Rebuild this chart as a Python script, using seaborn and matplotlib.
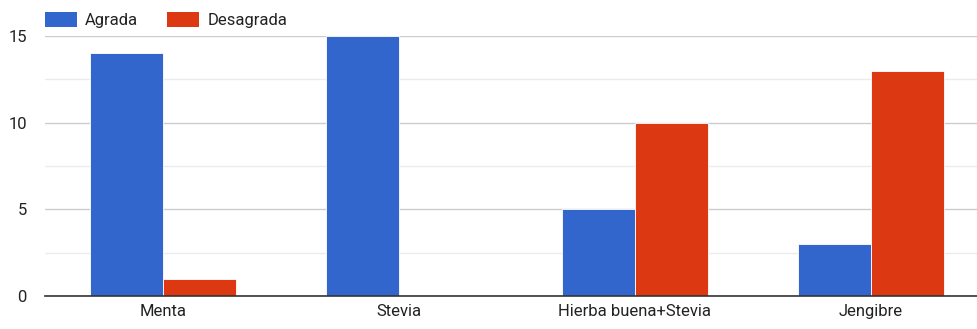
import matplotlib
matplotlib.use("Agg")
import matplotlib.pyplot as plt
import seaborn as sns
import pandas as pd
from matplotlib.patches import Patch

categories = ["Menta", "Stevia", "Hierba buena+Stevia", "Jengibre"]
agrada = [14, 15, 5, 3]
desagrada = [1, 0, 10, 13]
series_names = ["Agrada", "Desagrada"]
yticks = [0, 5, 10, 15]

df = pd.DataFrame({
    "cat": categories * 2,
    "serie": [series_names[0]] * len(categories) + [series_names[1]] * len(categories),
    "val": agrada + desagrada,
})

sns.set_theme(style="white")
plt.rcParams["font.family"] = ["Roboto", "DejaVu Sans"]

fig = plt.figure(figsize=(9.77, 3.29), dpi=100)
ax = fig.add_axes([45/977, 1 - 296/329, 944/977, (296 - 36)/329])

colors = ["#3366cc", "#dc3912"]
sns.barplot(data=df, x="cat", y="val", hue="serie", palette=colors, width=0.62,
            saturation=1, ax=ax, edgecolor="white", linewidth=0.6, legend=False,
            zorder=3)

ax.set_xlim(-0.5, 3.5)
ax.set_ylim(0, 15)
ax.set_yticks(yticks)
ax.set_yticks([2.5, 7.5, 12.5], minor=True)
ax.grid(axis="y", which="major", color="#cccccc", linewidth=1, zorder=0)
ax.grid(axis="y", which="minor", color="#ebebeb", linewidth=1, zorder=0)
ax.set_axisbelow(True)
ax.set_xlabel("")
ax.set_ylabel("")
for s in ["top", "right", "left"]:
    ax.spines[s].set_visible(False)
ax.spines["bottom"].set_color("#333333")
ax.spines["bottom"].set_linewidth(1.2)
ax.spines["bottom"].set_zorder(4)
ax.tick_params(axis="both", which="both", length=0, labelsize=12, colors="#222222")
ax.tick_params(axis="y", pad=13)
ax.tick_params(axis="x", pad=6)

handles = [Patch(facecolor=c, edgecolor="none") for c in colors]
fig.legend(handles, series_names, loc="upper left", bbox_to_anchor=(38.5/977, 1.0 - 5/329),
           ncol=2, frameon=False, fontsize=12, handlelength=1.92, handleheight=1.05,
           columnspacing=1.75, handletextpad=0.48, borderaxespad=0,
           labelcolor="#222222")

fig.savefig("out.png", dpi=100)
